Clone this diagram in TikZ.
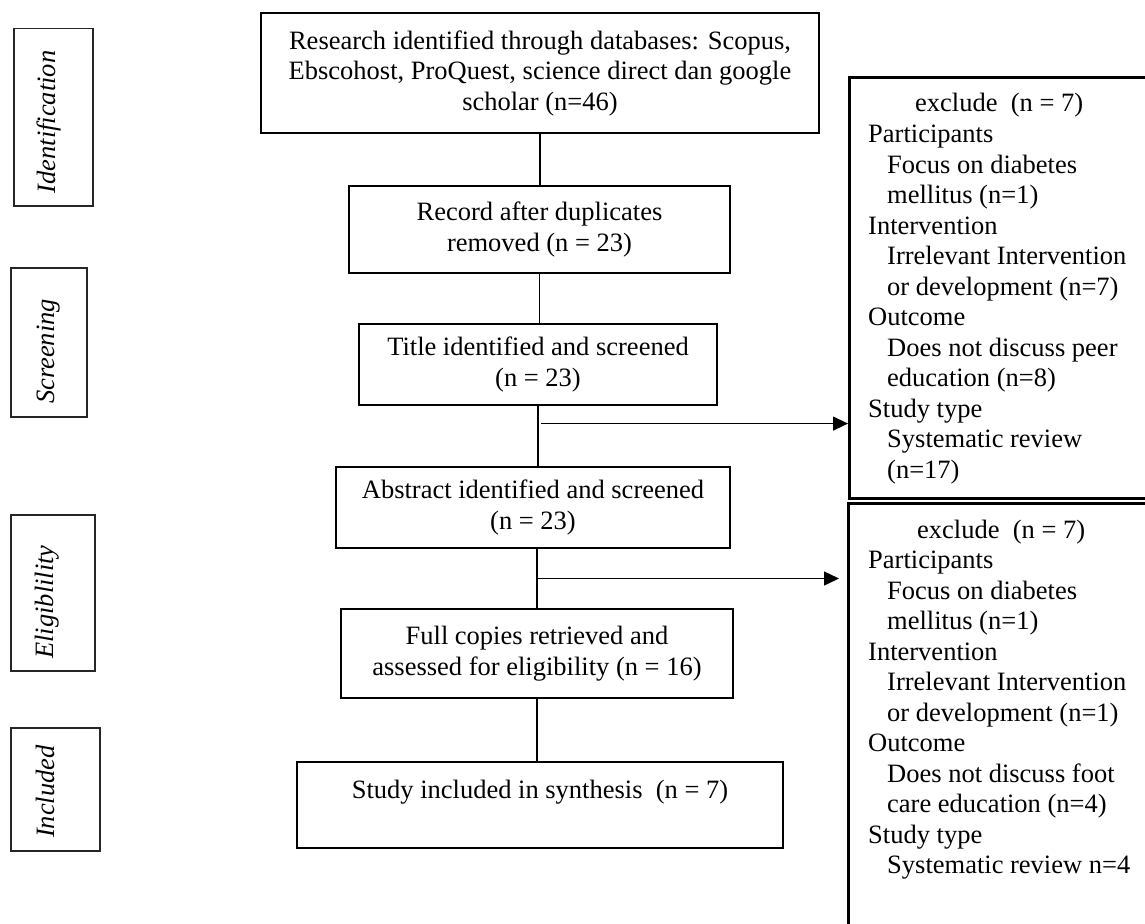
\documentclass[tikz,border=0pt]{standalone}
\usepackage{fontspec}
\setmainfont{Liberation Serif}
\usetikzlibrary{arrows.meta,calc}
\begin{document}
\begin{tikzpicture}[x=1pt,y=-1pt,
  every node/.style={font=\fontsize{26.5}{30.5}\selectfont},
  mainbox/.style={draw, line width=2.8pt, align=center, inner sep=0pt},
  labelbox/.style={draw=black!85, line width=1.5pt, inner sep=0pt},
  labeltext/.style={rotate=90, font=\fontsize{26.5}{30.5}\selectfont\itshape, inner sep=0pt},
  sidebox/.style={draw, line width=3pt, inner sep=0pt},
  sideline/.style={anchor=base west, inner sep=0pt},
  link/.style={line width=1.3pt},
  arr/.style={link, -{Triangle[length=15pt,width=14pt]}}
]
\useasboundingbox (0,0) rectangle (1145,923);
\clip (0,0) rectangle (1145,923);

% stage labels
\node[labelbox, anchor=north west, minimum width=79pt, minimum height=177pt] (l1) at (13,28) {};
\node[labeltext] (l1t) at (49,122) {Identification};
\node[labelbox, anchor=north west, minimum width=76pt, minimum height=149pt] (l2) at (10,267) {};
\node[labeltext] (l2t) at (48.5,351.5) {Screening};
\node[labelbox, anchor=north west, minimum width=84pt, minimum height=156pt] (l3) at (10,514) {};
\node[labeltext] (l3t) at (47.5,602) {Eligiblility};
\node[labelbox, anchor=north west, minimum width=89pt, minimum height=123pt] (l4) at (10,727) {};
\node[labeltext] (l4t) at (45.5,791.5) {Included};

% main flow
\node[mainbox, minimum width=558pt, minimum height=120pt] (b1) at (540,73)
  {Research identified through databases: Scopus,\\Ebscohost, ProQuest, science direct dan google\\scholar (n=46)};
\node[mainbox, minimum width=381pt, minimum height=87pt] (b2) at (539.5,229.5)
  {Record after duplicates\\removed (n = 23)};
\node[mainbox, minimum width=358pt, minimum height=81pt] (b3) at (538,364.5)
  {Title identified and screened\\(n = 23)};
\node[mainbox, minimum width=394pt, minimum height=81pt] (b4) at (533,507.5)
  {Abstract identified and screened\\(n = 23)};
\node[mainbox, minimum width=392pt, minimum height=89pt] (b5) at (537,653.5)
  {Full copies retrieved and\\assessed for eligibility (n = 16)};
\node[mainbox, minimum width=486pt, minimum height=86pt] (b6) at (540,805)
  {Study included in synthesis\ \ (n = 7)\\\mbox{}};

% exclusion boxes
\node[sidebox, anchor=north west, minimum width=322pt, minimum height=421pt] (r1) at (848,76) {};
\node[sidebox, anchor=north west, minimum width=323pt, minimum height=448pt] (r2) at (847,502) {};

\foreach \xx/\ltext [count=\i from 0] in {915/exclude\ \ (n = 7), 868/Participants, 887/Focus on diabetes, 887/mellitus (n=1), 868/Intervention, 887/Irrelevant Intervention, 887/or development (n=7), 868/Outcome, 887/Does not discuss peer, 887/education (n=8), 868/Study type, 887/Systematic review, 887/(n=17)}
  \node[sideline] (r1t\i) at (\xx, {112+30.5*\i}) {\ltext};

\foreach \xx/\ltext [count=\i from 0] in {917/exclude\ \ (n = 7), 868/Participants, 887/Focus on diabetes, 887/mellitus (n=1), 868/Intervention, 887/Irrelevant Intervention, 887/or development (n=1), 868/Outcome, 887/Does not discuss foot, 887/care education (n=4), 868/Study type, 887/Systematic review n=4}
  \node[sideline] (r2t\i) at (\xx, {538+30.5*\i}) {\ltext};

% connectors
\draw[link] (b1.south) -- (b1.south |- b2.north);
\draw[link] (b2.south) -- (b2.south |- b3.north);
\draw[link] (b3.south) -- (b3.south |- b4.north);
\draw[link] (b5.north |- b4.south) -- (b5.north);
\draw[link] (b5.south) -- (b5.south |- b6.north);

\coordinate (a1) at ($(b3.south)!0.29!(b3.south |- b4.north)$);
\draw[arr] ([xshift=3pt]a1) -- (a1 -| r1.west);
\coordinate (a2) at ($(b5.north |- b4.south)!0.5!(b5.north)$);
\draw[arr, shorten >=8pt] (a2) -- (a2 -| r2.west);
\end{tikzpicture}
\end{document}
